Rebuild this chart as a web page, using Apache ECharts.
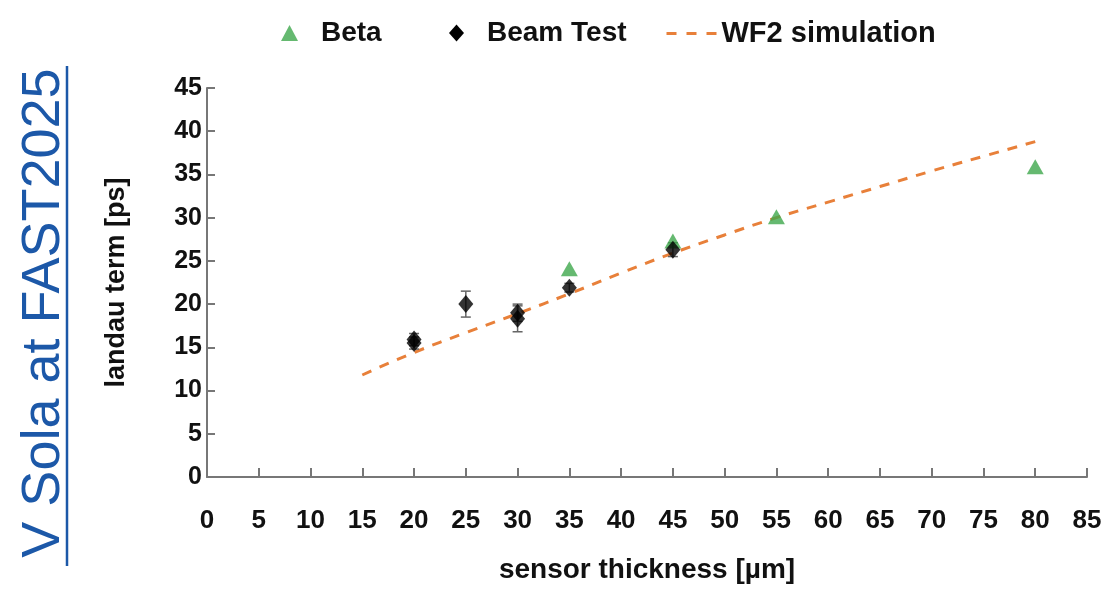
<!DOCTYPE html>
<html>
<head>
<meta charset="utf-8">
<script src="https://cdn.jsdelivr.net/npm/echarts@6/dist/echarts.min.js"></script>
<style>html,body{margin:0;padding:0;background:#fff}#c{width:1108px;height:589px}</style>
</head>
<body>
<div id="c"></div>
<script>
const xTicks = [0,5,10,15,20,25,30,35,40,45,50,55,60,65,70,75,80,85];
const yTicks = [0,5,10,15,20,25,30,35,40,45];
const betaX = [35, 45, 55, 80];
const betaY = [24.1, 27.3, 30.1, 35.9];
const beamX = [20, 20, 25, 30, 30, 35, 45];
const beamY = [15.9, 15.5, 20.0, 19.0, 18.3, 21.9, 26.3];
const beamErr = [0.7, 0.7, 1.5, 1.0, 1.5, 0.5, 0.8];
const simX = [15, 20, 25, 30, 35, 40, 45, 50, 55, 60, 65, 70, 75, 80];
const simY = [11.8, 14.4, 16.7, 18.9, 21.2, 23.6, 25.9, 28.0, 30.0, 31.8, 33.6, 35.4, 37.1, 38.8];

const FONT = 'Liberation Sans, Arial, sans-serif';
const chart = echarts.init(document.getElementById('c'));
const legendText = {fontFamily: FONT, fontWeight: 'bold', fontSize: 28, color: '#111', padding: [0,0,0,18]};
chart.setOption({
  animation: false,
  grid: {left: 207, right: 21, top: 88, bottom: 112, containLabel: false, outerBoundsMode: 'none'},
  legend: [
    {data: [{name: 'Beta', icon: 'triangle'}], left: 276, top: 14, itemWidth: 17, itemHeight: 16, textStyle: legendText},
    {data: [{name: 'Beam Test', icon: 'diamond'}], left: 444, top: 14, itemWidth: 15, itemHeight: 17, textStyle: legendText},
    {data: ['WF2 simulation'], left: 660, top: 14, itemWidth: 50, itemHeight: 16,
      itemStyle: {opacity: 0}, lineStyle: {width: 3, type: [10, 10]},
      textStyle: Object.assign({}, legendText, {padding: [0,0,0,0], fontSize: 29})}
  ],
  xAxis: {
    type: 'value', min: 0, max: 85, interval: 5,
    name: 'sensor thickness [µm]', nameLocation: 'middle', nameGap: 79,
    nameTextStyle: {fontFamily: FONT, fontWeight: 'bold', fontSize: 28, color: '#111'},
    axisLine: {show: true, lineStyle: {color: '#777', width: 2}},
    axisTick: {show: true, inside: true, length: 9, lineStyle: {color: '#777', width: 2}},
    axisLabel: {fontFamily: FONT, fontWeight: 'bold', fontSize: 26, color: '#111', margin: 31},
    splitLine: {show: false}
  },
  yAxis: {
    type: 'value', min: 0, max: 45, interval: 5,
    name: 'landau term [ps]', nameLocation: 'middle', nameGap: 77, nameRotate: 90,
    nameTextStyle: {fontFamily: FONT, fontWeight: 'bold', fontSize: 27, color: '#111'},
    axisLine: {show: true, lineStyle: {color: '#777', width: 2}},
    axisTick: {show: true, inside: true, length: 8, lineStyle: {color: '#777', width: 2}},
    axisLabel: {fontFamily: FONT, fontWeight: 'bold', fontSize: 25, color: '#111', margin: 5},
    splitLine: {show: false}
  },
  graphic: [
    {type: 'text', x: 44, y: 313, rotation: Math.PI / 2,
      style: {text: 'V Sola at FAST2025', fontFamily: FONT, fontSize: 54, fill: '#1c58a8',
        align: 'center', verticalAlign: 'middle'}},
    {type: 'line', shape: {x1: 67, y1: 66, x2: 67, y2: 566}, style: {stroke: '#1c58a8', lineWidth: 2.5}}
  ],
  series: [
    {name: 'WF2 simulation', type: 'line', data: simX.map((x, i) => [x, simY[i]]),
      showSymbol: false, symbol: 'none', smooth: true,
      lineStyle: {color: '#e8803a', width: 3, type: [10, 9]}, itemStyle: {color: '#e8803a'}, z: 2},
    {name: 'Beam Test', type: 'custom', data: beamX.map((x, i) => [x, beamY[i] - beamErr[i], beamY[i] + beamErr[i]]),
      renderItem: function (params, api) {
        const lo = api.coord([api.value(0), api.value(1)]);
        const hi = api.coord([api.value(0), api.value(2)]);
        const w = 5;
        const st = {stroke: '#666', lineWidth: 1.5};
        return {type: 'group', children: [
          {type: 'line', shape: {x1: lo[0], y1: lo[1], x2: hi[0], y2: hi[1]}, style: st},
          {type: 'line', shape: {x1: lo[0]-w, y1: lo[1], x2: lo[0]+w, y2: lo[1]}, style: st},
          {type: 'line', shape: {x1: hi[0]-w, y1: hi[1], x2: hi[0]+w, y2: hi[1]}, style: st}
        ]};
      }, itemStyle: {color: '#000'}, z: 3, legendHoverLink: false},
    {name: 'Beta', type: 'scatter', data: betaX.map((x, i) => [x, betaY[i]]),
      symbol: 'triangle', symbolSize: [17, 15], itemStyle: {color: '#3fa84c'}, z: 4},
    {name: 'Beam Test', type: 'scatter', data: beamX.map((x, i) => [x, beamY[i]]),
      symbol: 'diamond', symbolSize: [15, 18], itemStyle: {color: '#000'}, z: 5}
  ]
});
</script>
</body>
</html>
